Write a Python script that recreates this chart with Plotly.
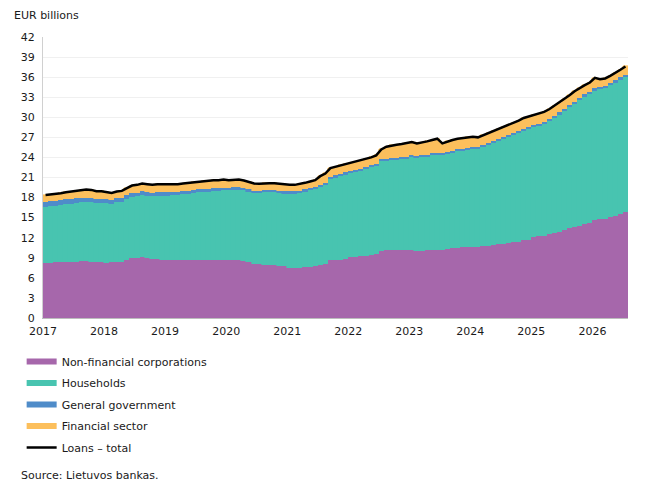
import plotly.graph_objects as go

# monthly data, Jan 2017 - Jul 2026, EUR billions
start_year = 2017
nfc = [8.2, 8.2, 8.3, 8.3, 8.3, 8.4, 8.4, 8.5, 8.5, 8.4, 8.4, 8.3,
       8.2, 8.3, 8.4, 8.4, 8.6, 8.9, 9.0, 9.1, 8.9, 8.8, 8.8, 8.7,
       8.7, 8.6, 8.6, 8.6, 8.6, 8.6, 8.7, 8.7, 8.6, 8.7, 8.7, 8.7,
       8.6, 8.6, 8.6, 8.5, 8.3, 8.1, 8.0, 7.9, 7.9, 7.9, 7.8, 7.7,
       7.5, 7.5, 7.5, 7.6, 7.6, 7.7, 7.9, 8.0, 8.7, 8.7, 8.7, 8.8,
       9.1, 9.1, 9.2, 9.3, 9.4, 9.5, 10.0, 10.1, 10.1, 10.1, 10.1, 10.2,
       10.2, 10.0, 10.0, 10.1, 10.1, 10.2, 10.2, 10.3, 10.4, 10.5, 10.6, 10.6,
       10.6, 10.6, 10.7, 10.8, 10.9, 11.0, 11.1, 11.2, 11.3, 11.4, 11.6, 11.7,
       12.1, 12.2, 12.3, 12.5, 12.7, 12.9, 13.2, 13.4, 13.6, 13.8, 14.0, 14.2,
       14.6, 14.8, 14.8, 15.1, 15.3, 15.5, 15.8]
households = [8.4, 8.5, 8.5, 8.6, 8.7, 8.7, 8.8, 8.8, 8.8, 8.9, 8.8, 8.9,
              9.0, 8.8, 8.9, 9.0, 9.2, 9.2, 9.2, 9.3, 9.4, 9.4, 9.5, 9.6,
              9.6, 9.8, 9.8, 9.9, 10.0, 10.1, 10.1, 10.2, 10.3, 10.3, 10.3, 10.4,
              10.5, 10.6, 10.6, 10.6, 10.6, 10.6, 10.7, 10.9, 10.9, 10.9, 10.9, 10.9,
              11.1, 11.1, 11.2, 11.3, 11.5, 11.6, 11.7, 11.9, 12.1, 12.3, 12.5, 12.6,
              12.5, 12.7, 12.8, 12.9, 13.1, 13.2, 13.4, 13.4, 13.5, 13.5, 13.6, 13.6,
              13.9, 13.9, 14.0, 14.0, 14.2, 14.2, 14.2, 14.2, 14.3, 14.4, 14.4, 14.5,
              14.6, 14.6, 14.8, 15.0, 15.2, 15.4, 15.6, 15.8, 16.0, 16.2, 16.3, 16.5,
              16.4, 16.5, 16.7, 16.9, 17.2, 17.5, 17.7, 18.1, 18.4, 18.8, 19.1, 19.3,
              19.4, 19.4, 19.6, 19.7, 19.9, 20.1, 20.2]
general_gov = [0.75, 0.75, 0.75, 0.75, 0.75, 0.7, 0.7, 0.7, 0.7, 0.7, 0.65, 0.65,
               0.65, 0.6, 0.6, 0.6, 0.6, 0.6, 0.55, 0.55, 0.55, 0.5, 0.5, 0.5,
               0.5, 0.5, 0.5, 0.5, 0.45, 0.45, 0.45, 0.45, 0.4, 0.4, 0.4, 0.4,
               0.35, 0.35, 0.35, 0.35, 0.35, 0.35, 0.35, 0.35, 0.35, 0.35, 0.35, 0.35,
               0.35, 0.35, 0.35, 0.35, 0.35, 0.35, 0.35, 0.35, 0.35, 0.35, 0.35, 0.35,
               0.3, 0.3, 0.3, 0.3, 0.3, 0.3, 0.3, 0.3, 0.3, 0.3, 0.3, 0.3,
               0.3, 0.3, 0.3, 0.3, 0.3, 0.3, 0.3, 0.3, 0.3, 0.3, 0.3, 0.3,
               0.35, 0.35, 0.35, 0.35, 0.35, 0.35, 0.35, 0.35, 0.35, 0.35, 0.35, 0.35,
               0.35, 0.35, 0.35, 0.35, 0.35, 0.35, 0.35, 0.35, 0.35, 0.35, 0.35, 0.35,
               0.35, 0.35, 0.35, 0.35, 0.35, 0.35, 0.35]
financial = [1.05, 1.0, 1.0, 1.0, 1.05, 1.1, 1.1, 1.2, 1.2, 1.15, 1.1, 1.1,
             0.95, 1.0, 1.0, 1.0, 1.0, 1.1, 1.15, 1.15, 1.15, 1.2, 1.2, 1.2,
             1.1, 1.1, 1.1, 1.1, 1.15, 1.15, 1.15, 1.15, 1.2, 1.2, 1.2, 1.2,
             1.15, 1.15, 1.15, 1.1, 1.1, 1.05, 1.0, 1.0, 1.0, 1.0, 1.0, 1.0,
             0.95, 0.95, 0.95, 0.95, 0.95, 0.95, 1.25, 1.35, 1.25, 1.25, 1.25, 1.25,
             1.2, 1.2, 1.2, 1.3, 1.2, 1.3, 1.5, 1.8, 1.9, 2.0, 2.0, 2.0,
             1.9, 1.9, 1.9, 2.0, 2.0, 2.1, 1.4, 1.6, 1.6, 1.6, 1.6, 1.6,
             1.55, 1.45, 1.45, 1.45, 1.45, 1.45, 1.45, 1.45, 1.55, 1.55, 1.65, 1.55,
             1.55, 1.45, 1.45, 1.45, 1.45, 1.45, 1.45, 1.45, 1.55, 1.45, 1.35, 1.35,
             1.55, 1.15, 1.05, 1.05, 1.05, 1.15, 1.25]
total = [a + b + c + d for a, b, c, d in zip(nfc, households, general_gov, financial)]

years = list(range(2017, 2027))
year_labels = [str(y) for y in years]

n = len(nfc)
x = [start_year + (i + 0.5) / 12 for i in range(n)]

series = [
    ("Non-financial corporations", nfc, "#a667ab"),
    ("Households", households, "#48c4b0"),
    ("General government", general_gov, "#4f8cc9"),
    ("Financial sector", financial, "#fcbf5c"),
]

fig = go.Figure()
for name, vals, col in series:
    fig.add_trace(go.Bar(x=x, y=vals, name=name, width=1 / 12,
                         marker={"color": col, "line": {"color": col, "width": 0.6}},
                         showlegend=False, hoverinfo="skip"))
fig.add_trace(go.Scatter(x=x, y=total, mode="lines", name="Loans – total",
                         line={"color": "#000000", "width": 2.5}, showlegend=False))

# legend entries drawn as thick lines like the original
for name, vals, col in series:
    fig.add_trace(go.Scatter(x=[None], y=[None], mode="lines", name=name,
                             legendgroup=name, line={"color": col, "width": 6}))
fig.add_trace(go.Scatter(x=[None], y=[None], mode="lines", name="Loans – total",
                         legendgroup="total", line={"color": "#000000", "width": 2.5}))

# page has an 8px body margin, so margins are shifted to compensate
fig.update_layout(
    width=650, height=500,
    barmode="stack", bargap=0,
    plot_bgcolor="white", paper_bgcolor="white",
    font={"family": "DejaVu Sans, Verdana, sans-serif", "size": 11, "color": "#1a1a1a"},
    margin={"l": 35, "r": 30, "t": 29, "b": 190, "autoexpand": False},
    xaxis={"range": [start_year, start_year + n / 12], "tickvals": years,
           "ticktext": year_labels, "showgrid": False, "showline": True,
           "linecolor": "#bdbdbd", "ticks": "", "zeroline": False,
           "ticklabelstandoff": 3},
    yaxis={"range": [0, 42], "dtick": 3, "showgrid": True, "gridcolor": "#f0f0f0",
           "showline": True, "linecolor": "#d0d0d0", "ticks": "", "zeroline": False,
           "ticklabelstandoff": 5},
    legend={"xref": "container", "yref": "container", "x": 0.021, "y": 0.322,
            "xanchor": "left", "yanchor": "top", "tracegroupgap": 2.5,
            "font": {"size": 11}, "bgcolor": "rgba(0,0,0,0)"},
    annotations=[
        {"text": "EUR billions", "xref": "paper", "yref": "paper",
         "x": -0.053, "y": 1.078, "xanchor": "left", "yanchor": "middle",
         "showarrow": False, "font": {"size": 11}},
        {"text": "Source: Lietuvos bankas.", "xref": "paper", "yref": "paper",
         "x": -0.041, "y": -0.562, "xanchor": "left", "yanchor": "middle",
         "showarrow": False, "font": {"size": 11}},
    ],
)

fig.write_html("out.html")
